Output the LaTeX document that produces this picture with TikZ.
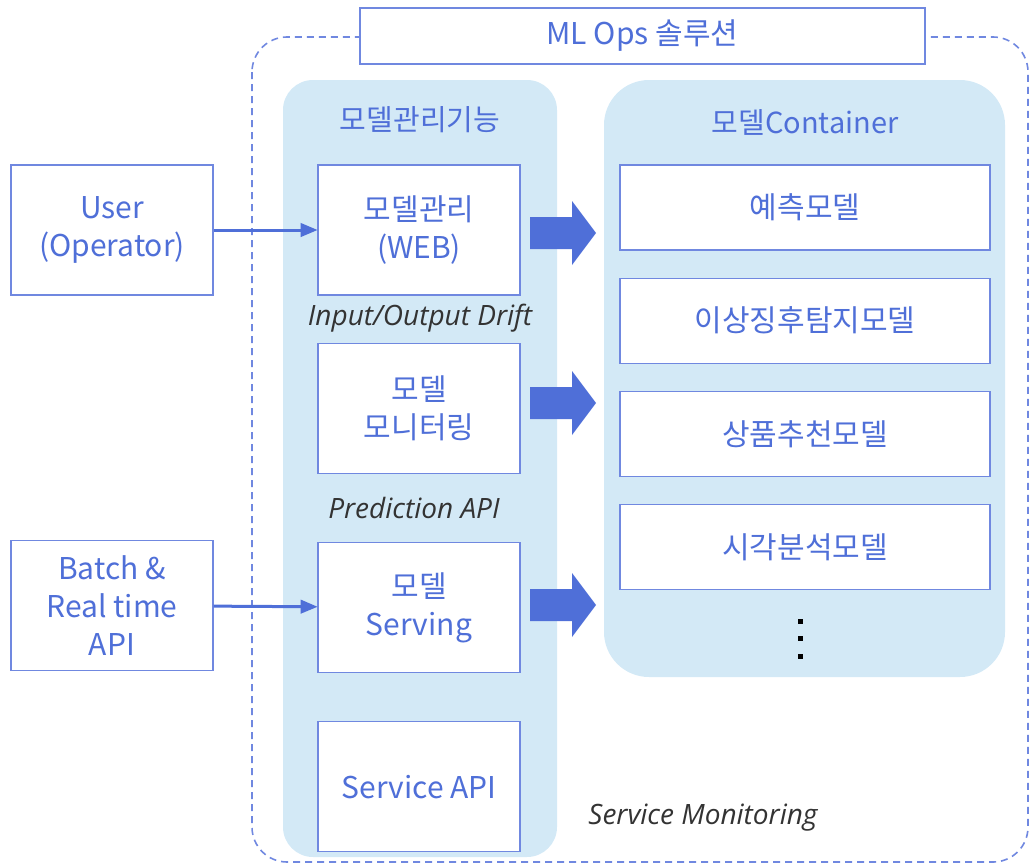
\documentclass[tikz,border=0pt]{standalone}
\usepackage{fontspec}
\setmainfont{Noto Sans CJK KR}
\newfontfamily\notefont{Open Sans}
\usepackage{tikz}
\usetikzlibrary{arrows,positioning}

\definecolor{mlblue}{HTML}{4F6FD8}
\definecolor{lineblue}{HTML}{7088E0}
\definecolor{panelblue}{HTML}{D3E9F6}
\definecolor{notegray}{HTML}{333333}

\tikzset{
  box/.style={draw=lineblue, line width=1.2pt, fill=white, text=mlblue, align=center,
    minimum width=202pt, minimum height=130pt, inner sep=0pt,
    font=\fontsize{30}{38}\selectfont},
  modelbox/.style={box, minimum width=370pt, minimum height=85pt},
  panel/.style={fill=panelblue},
  heading/.style={text=mlblue, font=\fontsize{29}{34}\selectfont},
  note/.style={text=notegray, font=\notefont\itshape\fontsize{28}{32}\selectfont},
  feed/.style={->, draw=mlblue, line width=3pt},
}

\begin{document}
\begin{tikzpicture}[x=1pt,y=-1pt]
\useasboundingbox (0,0) rectangle (1030,867);
\begin{scope}[>=triangle 45]

    % outer solution frame
    \draw[lineblue, line width=1.6pt, dash pattern=on 7pt off 5pt, rounded corners=35pt]
        (252,37) rectangle (1028,862);
    \node (ops) [box, minimum width=565pt, minimum height=56pt] at (642.5,36) {ML Ops 솔루션};

    % panels
    \fill[panel, rounded corners=30pt] (283,80) rectangle (557,857);
    \fill[panel, rounded corners=45pt] (604,80) rectangle (1005,677);
    \node (mgmt) [heading] at (420,120) {모델관리기능};
    \node (cont) [heading] at (805,122) {모델Container};

    % management functions
    \node (web) [box] at (419,230) {모델관리\\(WEB)};
    \node (monitor) [box, below=47pt of web] {모델\\모니터링};
    \node (serving) [box, below=68pt of monitor] {모델\\Serving};
    \node (svcapi) [box, below=48pt of serving] {Service API};
    \node (drift) [note] at (420,318) {Input/Output Drift};
    \node (pred) [note] at (414,508) {Prediction API};
    \node (svcmon) [note] at (703,818) {Service Monitoring};

    % clients
    \node (user) [box] at (112,230) {User\\(Operator)};
    \node (batch) [box] at (112,605.5) {Batch \&\\Real time\\API};
    \draw[feed] (user) -- (web);
    \draw[feed] (batch) -- (serving);

    % models
    \node (predict) [modelbox] at (805,207.5) {예측모델};
    \node (anomaly) [modelbox, below=27pt of predict] {이상징후탐지모델};
    \node (recommend) [modelbox, below=27pt of anomaly] {상품추천모델};
    \node (vision) [modelbox, below=27pt of recommend] {시각분석모델};
    \foreach \y in {621,638,656}
        \fill[black] (797.5,\y-2.5) rectangle ++(5,5);

    % block arrows
    \foreach \c in {233,403,605}
        \fill[mlblue] (530,\c-16) -- (572,\c-16) -- (572,\c-32) -- (596,\c)
            -- (572,\c+32) -- (572,\c+16) -- (530,\c+16) -- cycle;

\end{scope}
\end{tikzpicture}
\end{document}
